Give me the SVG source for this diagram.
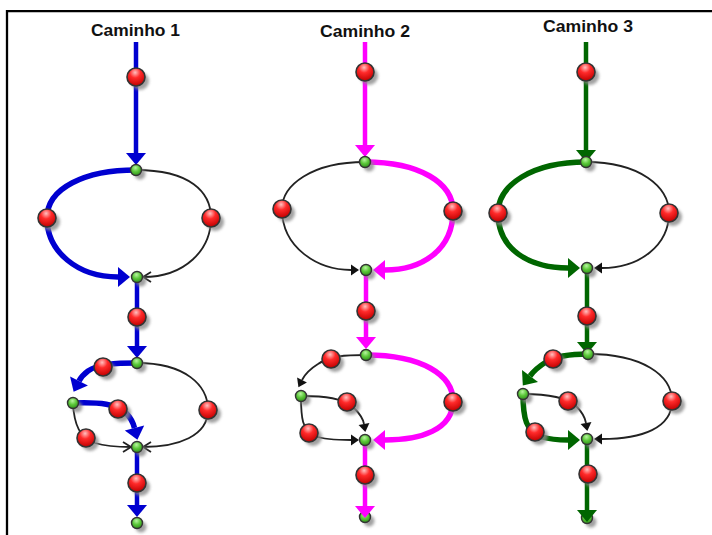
<svg xmlns="http://www.w3.org/2000/svg" width="712" height="535" viewBox="0 0 712 535">
  <style>
    .title { font-family: "Liberation Sans", Arial, sans-serif; font-weight: bold; font-size: 16px; fill: #111; }
    .thin { fill: none; stroke: #222; stroke-width: 1.8; }
    .blue { fill: none; stroke: #0000d0; stroke-width: 5.5; }
    .mag { fill: none; stroke: #ff00ff; stroke-width: 5.5; }
    .grn { fill: none; stroke: #006600; stroke-width: 5.5; }
    .vblue { fill: none; stroke: #0000d0; stroke-width: 4.5; }
    .vmag { fill: none; stroke: #ff00ff; stroke-width: 4.5; }
    .vgrn { fill: none; stroke: #006600; stroke-width: 4.5; }
    .red { fill: url(#gRed); stroke: #333; stroke-width: 1.6; }
    .ok { fill: url(#gGreen); stroke: #333; stroke-width: 1.4; }
    .shadow { fill: #8a8a8a; opacity: 0.8; filter: url(#soft); }
  </style>
  <defs>
    <radialGradient id="gRed" cx="0.45" cy="0.25" r="0.75">
      <stop offset="0" stop-color="#ffc0c0"/>
      <stop offset="0.4" stop-color="#ff2a2a"/>
      <stop offset="1" stop-color="#c00000"/>
    </radialGradient>
    <radialGradient id="gGreen" cx="0.45" cy="0.3" r="0.7">
      <stop offset="0" stop-color="#b8f5a0"/>
      <stop offset="0.5" stop-color="#5cc83a"/>
      <stop offset="1" stop-color="#2f8f1a"/>
    </radialGradient>
    <filter id="soft" x="-50%" y="-50%" width="200%" height="200%">
      <feGaussianBlur stdDeviation="1.4"/>
    </filter>
    <!-- large filled heads for the coloured paths (drawn from the path end forward) -->
    <marker id="aBlue" markerUnits="userSpaceOnUse" orient="auto" refX="0" refY="0" markerWidth="1" markerHeight="1" style="overflow:visible">
      <path d="M0,-10 L12,0 L0,10 Z" fill="#0000d0"/>
    </marker>
    <marker id="aMag" markerUnits="userSpaceOnUse" orient="auto" refX="0" refY="0" markerWidth="1" markerHeight="1" style="overflow:visible">
      <path d="M0,-10 L12,0 L0,10 Z" fill="#ff00ff"/>
    </marker>
    <marker id="aGrn" markerUnits="userSpaceOnUse" orient="auto" refX="0" refY="0" markerWidth="1" markerHeight="1" style="overflow:visible">
      <path d="M0,-10 L12,0 L0,10 Z" fill="#006600"/>
    </marker>
    <!-- small filled black head -->
    <marker id="aBlack" markerUnits="userSpaceOnUse" orient="auto" refX="0" refY="0" markerWidth="1" markerHeight="1" style="overflow:visible">
      <path d="M0,-5.5 L8,0 L0,5.5 Z" fill="#111"/>
    </marker>
    <!-- open chevron head, tip at the path end -->
    <marker id="aOpen" markerUnits="userSpaceOnUse" orient="auto" refX="0" refY="0" markerWidth="1" markerHeight="1" style="overflow:visible">
      <path d="M-8,-5 L0,0 L-8,5" fill="none" stroke="#222" stroke-width="1.8"/>
    </marker>
  </defs>

  <rect width="712" height="535" fill="#fff"/>
  <!-- frame -->
  <path d="M7,535 L7,11.2 L712,11.2" fill="none" stroke="#000" stroke-width="2.3"/>

  <g id="titles">
    <text class="title" x="135.5" y="36" text-anchor="middle" textLength="89" lengthAdjust="spacingAndGlyphs">Caminho 1</text>
    <text class="title" x="365" y="36.5" text-anchor="middle" textLength="90" lengthAdjust="spacingAndGlyphs">Caminho 2</text>
    <text class="title" x="588" y="32" text-anchor="middle" textLength="90" lengthAdjust="spacingAndGlyphs">Caminho 3</text>
  </g>

  <!-- end nodes that sit under their incoming arrowheads -->
  <g id="n2-end">
    <circle class="shadow" cx="369" cy="521" r="5.5"/>
    <circle class="ok" cx="365" cy="517" r="5.5"/>
  </g>
  <g id="n3-end">
    <circle class="shadow" cx="591" cy="522" r="5.5"/>
    <circle class="ok" cx="587" cy="518" r="5.5"/>
  </g>

  <g id="connectors">
    <!-- path 1 -->
    <path class="vblue" d="M136,42 L136,153" marker-end="url(#aBlue)"/>
    <path class="blue" d="M136,170 C85,170 47,188 47,218 C47,252 78,277 118,277" marker-end="url(#aBlue)"/>
    <path class="thin" d="M136,170 C190,170 211,192 211,218 C211,250 185,277 143,277" marker-end="url(#aOpen)"/>
    <path class="vblue" d="M137,277 L137,346" marker-end="url(#aBlue)"/>
    <path class="blue" d="M137,363 C115,363 98,364 88,371 C84,374 81,377 79,381" marker-end="url(#aBlue)"/>
    <path class="blue" d="M73,403 C100,402 117,404 126,413 C130,417 133,422 134.5,428" marker-end="url(#aBlue)"/>
    <path class="thin" d="M73,403 C74,425 80,438 95,443 C108,447 120,447 131,447" marker-end="url(#aOpen)"/>
    <path class="thin" d="M137,363 C185,363 208,385 208,410 C208,436 178,447 143,447" marker-end="url(#aOpen)"/>
    <path class="vblue" d="M137,447 L137,505" marker-end="url(#aBlue)"/>

    <!-- path 2 -->
    <path class="vmag" d="M365,42 L365,145" marker-end="url(#aMag)"/>
    <path class="thin" d="M365,162 C312,162 282,185 282,209 C282,248 318,270 351,270" marker-end="url(#aBlack)"/>
    <path class="mag" d="M365,162 C420,162 453,183 453,211 C453,250 422,270 385,270" marker-end="url(#aMag)"/>
    <path class="vmag" d="M366,270 L366,337" marker-end="url(#aMag)"/>
    <path class="thin" d="M366,355 C345,355 330,356 318,364 C310,369 305,374 302,380" marker-end="url(#aBlack)"/>
    <path class="thin" d="M301,396 C325,396 343,398 354,408 C360,414 363,418 364,424" marker-end="url(#aBlack)"/>
    <path class="thin" d="M301,396 C301,418 302,430 315,436 C325,440 340,440 351,440" marker-end="url(#aBlack)"/>
    <path class="mag" d="M366,355 C422,355 453,375 453,401 C453,430 420,440 385,440" marker-end="url(#aMag)"/>
    <path class="vmag" d="M365,440 L365,506" marker-end="url(#aMag)"/>

    <!-- path 3 -->
    <path class="vgrn" d="M586,42 L586,150" marker-end="url(#aGrn)"/>
    <path class="grn" d="M586,162 C532,162 498,185 498,213 C498,250 530,268 568,268" marker-end="url(#aGrn)"/>
    <path class="thin" d="M586,162 C640,162 669,187 669,213 C669,245 640,268 602,268" marker-end="url(#aBlack)"/>
    <path class="vgrn" d="M587,268 L587,342" marker-end="url(#aGrn)"/>
    <path class="grn" d="M588,354 C570,354 556,356 546,362 C538,367 533,372 530,376" marker-end="url(#aGrn)"/>
    <path class="thin" d="M523,394 C548,394 566,397 576,406 C582,412 585,417 586,423" marker-end="url(#aBlack)"/>
    <path class="grn" d="M523,394 C523,418 526,432 542,437 C552,440 560,440 568,440" marker-end="url(#aGrn)"/>
    <path class="thin" d="M588,354 C642,354 672,375 672,401 C672,428 642,439 602,439" marker-end="url(#aBlack)"/>
    <path class="vgrn" d="M587,439 L587,510" marker-end="url(#aGrn)"/>
  </g>

  <!-- path 1 nodes -->
  <g id="c1-r1"><circle class="shadow" cx="140" cy="81" r="9"/><circle class="red" cx="136" cy="77" r="9"/></g>
  <g id="c1-g1"><circle class="shadow" cx="140" cy="174" r="5.5"/><circle class="ok" cx="136" cy="170" r="5.5"/></g>
  <g id="c1-r2"><circle class="shadow" cx="51" cy="222" r="9"/><circle class="red" cx="47" cy="218" r="9"/></g>
  <g id="c1-r3"><circle class="shadow" cx="215" cy="222" r="9"/><circle class="red" cx="211" cy="218" r="9"/></g>
  <g id="c1-g2"><circle class="shadow" cx="141" cy="281" r="5.5"/><circle class="ok" cx="137" cy="277" r="5.5"/></g>
  <g id="c1-r4"><circle class="shadow" cx="141" cy="321" r="9"/><circle class="red" cx="137" cy="317" r="9"/></g>
  <g id="c1-g3"><circle class="shadow" cx="141" cy="367" r="5.5"/><circle class="ok" cx="137" cy="363" r="5.5"/></g>
  <g id="c1-r5"><circle class="shadow" cx="107" cy="371" r="9"/><circle class="red" cx="103" cy="367" r="9"/></g>
  <g id="c1-g4"><circle class="shadow" cx="77" cy="407" r="5.5"/><circle class="ok" cx="73" cy="403" r="5.5"/></g>
  <g id="c1-r6"><circle class="shadow" cx="122" cy="413" r="9"/><circle class="red" cx="118" cy="409" r="9"/></g>
  <g id="c1-r7"><circle class="shadow" cx="212" cy="414" r="9"/><circle class="red" cx="208" cy="410" r="9"/></g>
  <g id="c1-r8"><circle class="shadow" cx="90" cy="442" r="9"/><circle class="red" cx="86" cy="438" r="9"/></g>
  <g id="c1-g5"><circle class="shadow" cx="141" cy="451" r="5.5"/><circle class="ok" cx="137" cy="447" r="5.5"/></g>
  <g id="c1-r9"><circle class="shadow" cx="141" cy="487" r="9"/><circle class="red" cx="137" cy="483" r="9"/></g>
  <g id="c1-g6"><circle class="shadow" cx="141" cy="527" r="5.5"/><circle class="ok" cx="137" cy="523" r="5.5"/></g>

  <!-- path 2 nodes -->
  <g id="c2-r1"><circle class="shadow" cx="369" cy="76" r="9"/><circle class="red" cx="365" cy="72" r="9"/></g>
  <g id="c2-g1"><circle class="shadow" cx="369" cy="166" r="5.5"/><circle class="ok" cx="365" cy="162" r="5.5"/></g>
  <g id="c2-r2"><circle class="shadow" cx="286" cy="213" r="9"/><circle class="red" cx="282" cy="209" r="9"/></g>
  <g id="c2-r3"><circle class="shadow" cx="457" cy="215" r="9"/><circle class="red" cx="453" cy="211" r="9"/></g>
  <g id="c2-g2"><circle class="shadow" cx="370" cy="274" r="5.5"/><circle class="ok" cx="366" cy="270" r="5.5"/></g>
  <g id="c2-r4"><circle class="shadow" cx="370" cy="315" r="9"/><circle class="red" cx="366" cy="311" r="9"/></g>
  <g id="c2-g3"><circle class="shadow" cx="370" cy="359" r="5.5"/><circle class="ok" cx="366" cy="355" r="5.5"/></g>
  <g id="c2-r5"><circle class="shadow" cx="335" cy="363" r="9"/><circle class="red" cx="331" cy="359" r="9"/></g>
  <g id="c2-g4"><circle class="shadow" cx="305" cy="400" r="5.5"/><circle class="ok" cx="301" cy="396" r="5.5"/></g>
  <g id="c2-r6"><circle class="shadow" cx="351" cy="406" r="9"/><circle class="red" cx="347" cy="402" r="9"/></g>
  <g id="c2-r7"><circle class="shadow" cx="457" cy="406" r="9"/><circle class="red" cx="453" cy="402" r="9"/></g>
  <g id="c2-r8"><circle class="shadow" cx="313" cy="437" r="9"/><circle class="red" cx="309" cy="433" r="9"/></g>
  <g id="c2-g5"><circle class="shadow" cx="369" cy="444" r="5.5"/><circle class="ok" cx="365" cy="440" r="5.5"/></g>
  <g id="c2-r9"><circle class="shadow" cx="369" cy="479" r="9"/><circle class="red" cx="365" cy="475" r="9"/></g>

  <!-- path 3 nodes -->
  <g id="c3-r1"><circle class="shadow" cx="590" cy="76" r="9"/><circle class="red" cx="586" cy="72" r="9"/></g>
  <g id="c3-g1"><circle class="shadow" cx="590" cy="166" r="5.5"/><circle class="ok" cx="586" cy="162" r="5.5"/></g>
  <g id="c3-r2"><circle class="shadow" cx="502" cy="217" r="9"/><circle class="red" cx="498" cy="213" r="9"/></g>
  <g id="c3-r3"><circle class="shadow" cx="673" cy="217" r="9"/><circle class="red" cx="669" cy="213" r="9"/></g>
  <g id="c3-g2"><circle class="shadow" cx="591" cy="272" r="5.5"/><circle class="ok" cx="587" cy="268" r="5.5"/></g>
  <g id="c3-r4"><circle class="shadow" cx="591" cy="320" r="9"/><circle class="red" cx="587" cy="316" r="9"/></g>
  <g id="c3-g3"><circle class="shadow" cx="592" cy="358" r="5.5"/><circle class="ok" cx="588" cy="354" r="5.5"/></g>
  <g id="c3-r5"><circle class="shadow" cx="557" cy="363" r="9"/><circle class="red" cx="553" cy="359" r="9"/></g>
  <g id="c3-g4"><circle class="shadow" cx="527" cy="398" r="5.5"/><circle class="ok" cx="523" cy="394" r="5.5"/></g>
  <g id="c3-r6"><circle class="shadow" cx="572" cy="405" r="9"/><circle class="red" cx="568" cy="401" r="9"/></g>
  <g id="c3-r7"><circle class="shadow" cx="676" cy="405" r="9"/><circle class="red" cx="672" cy="401" r="9"/></g>
  <g id="c3-r8"><circle class="shadow" cx="539" cy="436" r="9"/><circle class="red" cx="535" cy="432" r="9"/></g>
  <g id="c3-g5"><circle class="shadow" cx="591" cy="443" r="5.5"/><circle class="ok" cx="587" cy="439" r="5.5"/></g>
  <g id="c3-r9"><circle class="shadow" cx="592" cy="478" r="9"/><circle class="red" cx="588" cy="474" r="9"/></g>
</svg>
